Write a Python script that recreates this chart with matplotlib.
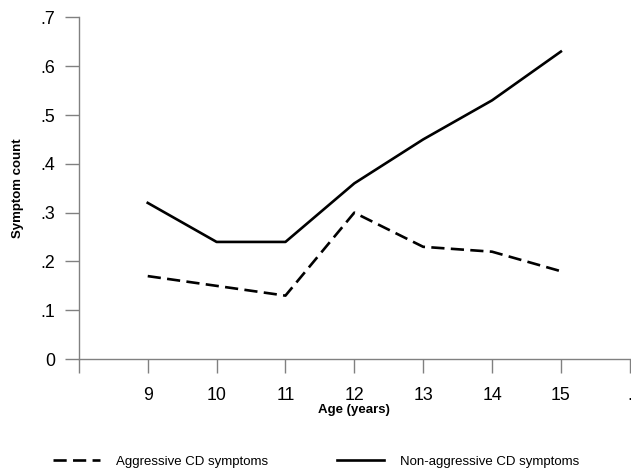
from matplotlib import pyplot as plt
from matplotlib import ticker

# data
ages = [9, 10, 11, 12, 13, 14, 15]
aggressive = [0.17, 0.15, 0.13, 0.30, 0.23, 0.22, 0.18]
nonAggressive = [0.32, 0.24, 0.24, 0.36, 0.45, 0.53, 0.63]

xTicks = [8, 9, 10, 11, 12, 13, 14, 15, 16]
xTickLabels = ["", "9", "10", "11", "12", "13", "14", "15", "."]
yTicks = [0, 0.1, 0.2, 0.3, 0.4, 0.5, 0.6, 0.7]
yTickLabels = ["0", ".1", ".2", ".3", ".4", ".5", ".6", ".7"]

plt.rcParams['font.family'] = ['Liberation Sans', 'DejaVu Sans']

fig = plt.figure(figsize=(6.31, 4.70), dpi=100)
ax = fig.add_axes([0.125, 0.236, 0.873, 0.727])

ax.plot(ages, aggressive, color="black", lw=1.9, dashes=(5, 2.4), label="Aggressive CD symptoms")
ax.plot(ages, nonAggressive, color="black", lw=1.9, label="Non-aggressive CD symptoms")

##--Axis formatting--##
ax.set_xlim(8, 16)
ax.set_ylim(0, 0.7)
ax.set_xticks(xTicks)
ax.set_xticklabels(xTickLabels)
ax.set_yticks(yTicks)
ax.set_yticklabels(yTickLabels)

for side in ["top", "right"]:
    ax.spines[side].set_visible(False)
for side in ["left", "bottom"]:
    ax.spines[side].set_color("#808080")
    ax.spines[side].set_linewidth(1.0)
ax.spines["left"].set_bounds(0, 0.7)

ax.tick_params(axis="both", colors="#808080", labelcolor="black", labelsize=12.8, width=1.0)
ax.tick_params(axis="x", length=10, pad=10)
ax.tick_params(axis="y", length=10, pad=7)

ax.set_xlabel("Age (years)", fontsize=9.5, fontweight="bold", labelpad=0)
ax.set_ylabel("Symptom count", fontsize=9.5, fontweight="bold", labelpad=12)
##--End of axis formatting--##

fig.legend(loc="lower left", bbox_to_anchor=(0.065, -0.02), ncol=2, frameon=False,
           fontsize=9.5, handlelength=3.6, handletextpad=1.2, columnspacing=5.2)

fig.savefig("out.png", dpi=100)
